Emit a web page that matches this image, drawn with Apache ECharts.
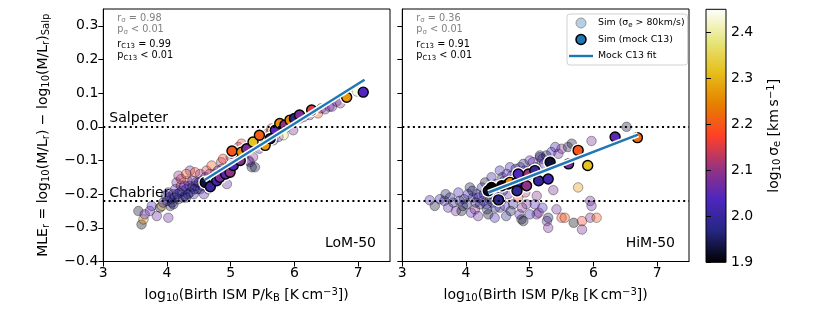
<!DOCTYPE html>
<html><head><meta charset="utf-8">
<script src="https://cdn.jsdelivr.net/npm/echarts@6/dist/echarts.min.js"></script>
<style>html,body{margin:0;padding:0;background:#fff}#c{width:830px;height:312px}</style>
</head><body><div id="c"></div>
<script>
// ---------- data ----------
const xTicks = [3, 4, 5, 6, 7];
const yTicks = [-0.4, -0.3, -0.2, -0.1, 0, 0.1, 0.2, 0.3];
const cbTicks = [1.9, 2.0, 2.1, 2.2, 2.3, 2.4];
const refLevels = [0, -0.22];
const refNames = ['Salpeter', 'Chabrier'];
const panelNames = ['LoM-50', 'HiM-50'];
const rSigma = ['0.98', '0.36'];
const pSigma = ['< 0.01', '< 0.01'];
const rC13 = ['0.99', '0.91'];
const pC13 = ['< 0.01', '< 0.01'];

// [log10 P/kB, MLE_r, log10 sigma_e]
const simLo = [
[3.55,-0.25,1.92],[3.60,-0.29,1.91],[3.63,-0.275,2.25],[3.65,-0.26,2.05],[3.73,-0.25,2.06],[3.76,-0.235,2.04],
[3.84,-0.265,2.07],[3.89,-0.24,1.93],[3.92,-0.235,2.30],[3.94,-0.225,2.02],[4.02,-0.27,2.06],[4.05,-0.235,1.95],
[4.02,-0.195,2.03],[4.07,-0.215,1.98],[4.10,-0.20,2.00],[4.13,-0.185,2.05],[4.15,-0.165,2.08],[4.18,-0.215,1.99],
[4.20,-0.195,1.97],[4.22,-0.175,2.10],[4.25,-0.21,1.96],[4.28,-0.205,2.00],[4.30,-0.185,2.02],[4.32,-0.16,2.12],
[4.36,-0.13,2.07],[4.36,-0.195,1.95],[4.39,-0.18,1.99],[4.42,-0.20,2.03],[4.44,-0.135,2.18],[4.46,-0.165,2.06],
[4.48,-0.185,1.94],[4.52,-0.14,2.10],[4.52,-0.185,2.00],[4.55,-0.16,2.04],[4.58,-0.20,2.05],[4.62,-0.13,2.15],
[4.65,-0.185,1.96],[4.70,-0.115,2.20],[4.72,-0.15,2.03],[4.74,-0.17,2.00],[4.80,-0.13,2.06],[4.80,-0.155,2.09],
[4.85,-0.105,2.12],[4.88,-0.095,2.18],[4.90,-0.14,1.95],[4.94,-0.17,2.06],[4.97,-0.12,2.04],[5.00,-0.09,2.10],
[5.04,-0.115,2.05],[5.06,-0.085,2.20],[5.10,-0.10,2.00],[5.12,-0.06,2.14],[5.17,-0.05,2.17],[5.20,-0.085,2.08],
[5.25,-0.06,2.06],[5.28,-0.10,2.04],[5.30,-0.105,2.07],[5.33,-0.12,1.93],[5.35,-0.09,2.09],[5.38,-0.12,1.94],
[5.40,-0.045,2.20],[5.45,-0.065,2.05],[5.50,-0.04,2.16],[5.55,-0.05,2.10],[5.58,-0.02,2.20],[5.62,-0.02,2.12],
[5.64,-0.005,2.18],[5.67,-0.04,2.05],[5.72,0.0,2.20],[5.75,-0.03,2.06],[5.80,0.005,2.15],[5.83,-0.025,2.38],
[5.88,0.0,2.10],[5.92,0.015,2.20],[5.98,-0.01,2.08],[6.02,0.02,2.12],[6.09,0.025,2.18],[6.15,0.03,2.05],
[6.24,0.035,2.07],[6.30,0.05,2.17],[6.37,0.04,2.20],[6.42,0.055,2.10],[6.48,0.052,2.08],[6.55,0.06,2.06],
[6.59,0.06,2.07],[6.66,0.075,2.05],[6.72,0.07,2.10],[6.98,0.105,2.40],
[4.00,-0.22,1.98],[4.08,-0.225,2.00],[4.12,-0.21,1.96],[4.30,-0.21,1.98],[4.35,-0.175,2.00],[4.45,-0.175,1.97],[4.55,-0.175,2.02],
[3.98,-0.205,1.97],[4.04,-0.21,2.02],[4.10,-0.23,1.94],[4.16,-0.20,1.99],[4.24,-0.19,2.00],[4.27,-0.175,2.04],
[4.33,-0.20,1.96],[4.40,-0.16,2.06],[4.43,-0.185,1.99],[4.50,-0.165,1.98],[4.60,-0.15,2.06],[4.67,-0.14,2.10],
[4.76,-0.14,2.12],[4.86,-0.125,2.07],[5.08,-0.095,2.06],[5.22,-0.07,2.12],[4.22,-0.155,2.16],[4.30,-0.14,2.20],[4.18,-0.145,2.10]
];
const mockLo = [
[4.60,-0.165,1.93],[4.68,-0.178,2.00],[4.78,-0.16,2.02],[4.83,-0.15,2.08],[4.92,-0.14,2.05],[4.99,-0.135,2.10],
[5.04,-0.115,2.03],[5.15,-0.10,2.09],[5.02,-0.072,2.20],[5.17,-0.075,2.26],[5.25,-0.065,2.08],[5.35,-0.045,2.32],
[5.45,-0.025,2.21],[5.54,-0.055,2.27],[5.62,-0.035,1.95],[5.70,-0.01,2.05],[5.77,0.01,2.26],[5.85,0.005,2.10],
[5.93,0.02,2.25],[6.00,0.025,1.97],[6.08,0.035,2.08],[6.27,0.05,2.15],[6.82,0.088,2.27],[7.08,0.103,2.04]
];
const fitLoX = [4.59, 7.10];
const fitLoY = [-0.158, 0.140];

const simHi = [
[3.43,-0.218,2.04],[3.51,-0.235,1.93],[3.59,-0.215,2.02],[3.66,-0.22,2.00],[3.68,-0.20,1.95],[3.72,-0.24,2.05],
[3.80,-0.225,1.97],[3.84,-0.25,2.07],[3.88,-0.195,2.03],[3.93,-0.25,1.92],[3.97,-0.215,2.00],[4.01,-0.23,1.96],
[4.06,-0.18,1.94],[4.08,-0.255,2.04],[4.11,-0.21,1.98],[4.14,-0.245,2.10],[4.17,-0.20,2.00],[4.19,-0.265,2.06],
[4.22,-0.23,1.95],[4.25,-0.18,1.99],[4.27,-0.22,2.02],[4.30,-0.165,1.93],[4.33,-0.245,1.97],[4.35,-0.26,1.92],
[4.38,-0.20,2.05],[4.40,-0.15,2.00],[4.42,-0.225,1.96],[4.45,-0.27,2.03],[4.47,-0.17,2.08],[4.50,-0.205,1.98],
[4.53,-0.13,2.02],[4.53,-0.24,2.00],[4.57,-0.15,1.95],[4.61,-0.235,2.04],[4.63,-0.265,1.98],[4.66,-0.20,2.06],
[4.69,-0.12,2.03],[4.72,-0.145,1.97],[4.74,-0.23,2.00],[4.77,-0.185,2.20],[4.82,-0.21,2.18],[4.84,-0.26,2.05],
[4.87,-0.275,1.92],[4.85,-0.12,2.06],[4.90,-0.11,1.96],[4.90,-0.28,1.93],[4.93,-0.195,2.12],[4.95,-0.23,2.07],
[4.98,-0.155,2.00],[5.00,-0.10,2.05],[5.04,-0.125,1.94],[5.08,-0.23,2.04],[5.11,-0.205,2.09],[5.11,-0.26,2.06],
[5.14,-0.255,2.08],[5.16,-0.085,2.02],[5.16,-0.09,1.93],[5.22,-0.11,2.05],[5.27,-0.28,2.06],[5.29,-0.27,1.95],
[5.29,-0.30,2.08],[5.34,-0.075,2.04],[5.37,-0.188,2.08],[5.42,-0.245,2.07],[5.45,-0.08,2.06],[5.50,-0.065,2.09],
[5.50,-0.27,2.18],[5.55,-0.27,2.20],[5.60,-0.06,1.94],[5.66,-0.05,1.93],[5.69,-0.285,1.91],[5.76,-0.18,2.27],
[5.82,-0.28,2.17],[5.82,-0.305,2.08],[5.95,-0.22,2.07],[5.97,-0.235,2.06],[5.95,-0.27,2.08],[5.97,-0.042,2.08],
[6.05,-0.27,2.20],[6.52,0.0,1.93],
[3.75,-0.21,1.98],[3.90,-0.22,2.00],[3.95,-0.235,1.95],[4.03,-0.20,2.02],[4.10,-0.19,1.96],[4.15,-0.225,1.99],
[4.20,-0.21,2.03],[4.28,-0.20,1.97],[4.32,-0.23,2.00],[4.37,-0.215,1.94],[4.43,-0.195,2.01],[4.46,-0.24,1.98],
[4.55,-0.22,2.05],[4.58,-0.19,1.96],[4.60,-0.16,2.00],[4.64,-0.14,2.04],[4.70,-0.25,1.95],[4.75,-0.155,2.02],
[4.78,-0.125,1.97],[4.92,-0.13,2.03],[5.05,-0.105,2.05],[5.10,-0.12,1.97],[5.20,-0.095,2.00],[5.26,-0.085,1.95],
[5.40,-0.06,2.02],[4.88,-0.24,2.09],[5.00,-0.26,2.02],[5.20,-0.24,2.04]
];
const mockHi = [
[4.35,-0.19,1.92],[4.40,-0.18,1.90],[4.51,-0.217,1.98],[4.56,-0.175,1.91],[4.66,-0.17,1.93],[4.69,-0.165,2.25],
[4.80,-0.165,2.00],[4.80,-0.19,1.99],[4.82,-0.14,2.04],[4.95,-0.175,2.10],[4.98,-0.14,2.11],[5.08,-0.13,2.00],
[5.14,-0.16,2.00],[5.29,-0.155,2.02],[5.32,-0.105,1.93],[5.61,-0.11,2.07],[5.76,-0.07,2.20],[5.91,-0.115,2.32],
[6.34,-0.03,2.05],[6.69,-0.032,2.22]
];
const fitHiX = [4.35, 6.70];
const fitHiY = [-0.195, -0.023];

const sigmaMin = 1.9, sigmaMax = 2.45;
// matplotlib CMRmap anchors
const cmrmap = ['#000000','#262680','#4d26bf','#993380','#ff4026','#e68000','#e6bf1a','#e6e680','#ffffff'];

// ---------- chart ----------
const FONT = 'DejaVu Sans';
const chart = echarts.init(document.getElementById('c'), null, {renderer: 'canvas'});
const fmtY = v => (Math.abs(v) < 1e-9 ? '0.0' : v.toFixed(1)).replace('-', '\u2212');
const subRich = {
  s: {fontSize: 10, fontFamily: FONT, verticalAlign: 'bottom', lineHeight: 10, color: '#000'},
  p: {fontSize: 10, fontFamily: FONT, verticalAlign: 'top', lineHeight: 10, color: '#000'}
};
const simName = 'Sim (\u03c3e > 80km/s)';
const mockName = 'Sim (mock C13)';
const fitName = 'Mock C13 fit';

const grids = [
  {left: 103.3, top: 9, width: 286.7, height: 252.5, show: true, borderColor: '#000', borderWidth: 1, backgroundColor: '#fff'},
  {left: 402.3, top: 9, width: 286.7, height: 252.5, show: true, borderColor: '#000', borderWidth: 1, backgroundColor: '#fff'},
  {left: 706, top: 9.3, width: 20, height: 253, show: true, borderColor: '#000', borderWidth: 1,
   backgroundColor: {type: 'linear', x: 0, y: 1, x2: 0, y2: 0,
     colorStops: cmrmap.map((c, i) => ({offset: i / (cmrmap.length - 1), color: c}))}}
];
const xName = 'log{s|10}(Birth ISM P/k{s|B} [K\u2009cm{p|\u22123}])';
const yName = 'MLE{s|r} = log{s|10}(M/L{s|r}) \u2212 log{s|10}(M/L{s|r}){s|Salp}';
const xAxes = [0, 1].map(i => ({
  gridIndex: i, type: 'value', min: 3, max: 7.5,
  name: xName, nameLocation: 'middle', nameGap: 26,
  nameTextStyle: {fontSize: 14, fontFamily: FONT, color: '#000', lineHeight: 16, rich: subRich},
  axisLine: {onZero: false, lineStyle: {color: '#000', width: 1}},
  axisTick: {length: 5, lineStyle: {color: '#000'}, customValues: xTicks},
  axisLabel: {fontSize: 14, fontFamily: FONT, color: '#000', margin: 5, customValues: xTicks, formatter: v => String(v)},
  splitLine: {show: false}
}));
xAxes.push({gridIndex: 2, type: 'value', min: 0, max: 1, show: false});
const yAxes = [0, 1].map(i => ({
  gridIndex: i, type: 'value', min: -0.4, max: 0.35,
  name: i === 0 ? yName : '', nameLocation: 'middle', nameGap: 52,
  nameTextStyle: {fontSize: 14, fontFamily: FONT, color: '#000', lineHeight: 16, rich: subRich},
  axisLine: {onZero: false, lineStyle: {color: '#000', width: 1}},
  axisTick: {length: 5, lineStyle: {color: '#000'}, customValues: yTicks},
  axisLabel: {show: i === 0, fontSize: 14, fontFamily: FONT, color: '#000', margin: 5, customValues: yTicks, formatter: fmtY},
  splitLine: {show: false}
}));
yAxes.push({
  gridIndex: 2, type: 'value', min: sigmaMin, max: sigmaMax, position: 'right',
  name: 'log{s|10}\u2009\u03c3{s|e} [km\u2009s{p|\u22121}]', nameLocation: 'middle', nameGap: 40, nameRotate: 90,
  nameTextStyle: {fontSize: 14, fontFamily: FONT, color: '#000', lineHeight: 16, rich: subRich},
  axisLine: {show: false},
  axisTick: {length: 5, lineStyle: {color: '#000'}, customValues: cbTicks},
  axisLabel: {fontSize: 14, fontFamily: FONT, color: '#000', margin: 5, customValues: cbTicks, formatter: v => v.toFixed(1)},
  splitLine: {show: false}
});

const series = [];
const colored = [];
const panels = [
  {sim: simLo, mock: mockLo, fx: fitLoX, fy: fitLoY},
  {sim: simHi, mock: mockHi, fx: fitHiX, fy: fitHiY}
];
panels.forEach((p, i) => {
  colored.push(series.length);
  series.push({
    name: simName, type: 'scatter', xAxisIndex: i, yAxisIndex: i, data: p.sim, symbolSize: 9.5, z: 2,
    itemStyle: {opacity: 0.35, borderColor: '#000', borderWidth: 1},
    markLine: {
      silent: true, symbol: 'none', animation: false,
      lineStyle: {color: '#000', type: [2, 3.3], width: 2, cap: 'butt'},
      label: {show: i === 0, position: 'insideStartTop', distance: [6, 1], formatter: '{b}',
              fontSize: 14, fontFamily: FONT, color: '#000'},
      data: refLevels.map((v, k) => ({yAxis: v, name: refNames[k]}))
    }
  });
  series.push({
    name: 'halo', type: 'scatter', xAxisIndex: i, yAxisIndex: i, data: p.mock, symbolSize: 14, z: 3,
    silent: true, itemStyle: {color: '#fff', opacity: 1}
  });
  colored.push(series.length);
  series.push({
    name: mockName, type: 'scatter', xAxisIndex: i, yAxisIndex: i, data: p.mock, symbolSize: 10, z: 4,
    itemStyle: {opacity: 1, borderColor: '#000', borderWidth: 1.4}
  });
  const fit = p.fx.map((x, k) => [x, p.fy[k]]);
  series.push({
    name: 'fitHalo', type: 'line', xAxisIndex: i, yAxisIndex: i, data: fit, symbol: 'none', z: 5,
    lineStyle: {color: '#fff', width: 5.5}, silent: true
  });
  series.push({
    name: fitName, type: 'line', xAxisIndex: i, yAxisIndex: i, data: fit, symbol: 'none', z: 6,
    color: '#1f77b4', lineStyle: {color: '#1f77b4', width: 2.5}
  });
});
series.push({type: 'scatter', xAxisIndex: 2, yAxisIndex: 2, data: []});

const statText = i =>
  '{g|r}{gs|\u03c3}{g| = ' + rSigma[i] + '}\n{g|p}{gs|\u03c3}{g| ' + pSigma[i] + '}';
const statText2 = i =>
  '{k|r}{ks|C13}{k| = ' + rC13[i] + '}\n{k|p}{ks|C13}{k| ' + pC13[i] + '}';
const statRich = {
  g: {fontSize: 9.7, fontFamily: FONT, color: '#808080', lineHeight: 11.5, verticalAlign: 'middle'},
  gs: {fontSize: 7, fontFamily: FONT, color: '#808080', lineHeight: 7, verticalAlign: 'bottom'},
  k: {fontSize: 9.7, fontFamily: FONT, color: '#000', lineHeight: 11.5, verticalAlign: 'middle'},
  ks: {fontSize: 7, fontFamily: FONT, color: '#000', lineHeight: 7, verticalAlign: 'bottom'}
};
const panelLeft = [103.3, 402.3];
const graphics = [];
[0, 1].forEach(i => {
  graphics.push({type: 'text', left: panelLeft[i] + 14, top: 13, z: 50,
    style: {text: statText(i), rich: statRich, fill: '#808080'}});
  graphics.push({type: 'text', left: panelLeft[i] + 14, top: 39, z: 50,
    style: {text: statText2(i), rich: statRich, fill: '#000'}});
  graphics.push({type: 'text', right: 830 - (panelLeft[i] + 286.7) + 14, top: 236, z: 50,
    style: {text: panelNames[i], font: '14px "DejaVu Sans"', fill: '#000'}});
});

chart.setOption({
  animation: false,
  backgroundColor: '#fff',
  textStyle: {fontFamily: FONT},
  grid: grids,
  xAxis: xAxes,
  yAxis: yAxes,
  visualMap: {type: 'continuous', show: false, min: sigmaMin, max: sigmaMax, dimension: 2,
    seriesIndex: colored, inRange: {color: cmrmap}},
  legend: {
    orient: 'vertical', left: 567, top: 14, itemWidth: 24, itemHeight: 10, itemGap: 4.5,
    padding: [3, 3, 3, 2], borderColor: '#d0d0d0', borderWidth: 1, borderRadius: 3, backgroundColor: '#fff',
    selectedMode: false,
    textStyle: {fontSize: 9.4, fontFamily: FONT, color: '#000', lineHeight: 12,
      rich: {e: {fontSize: 7, fontFamily: FONT, verticalAlign: 'bottom', lineHeight: 7, color: '#000'}}},
    formatter: n => n === simName ? 'Sim (\u03c3{e|e} > 80km/s)' : n,
    data: [
      {name: simName, icon: 'circle', itemStyle: {color: '#b7cfe4', borderColor: '#9a9a9a', borderWidth: 1, opacity: 1}},
      {name: mockName, icon: 'circle', itemStyle: {color: '#1f77b4', borderColor: '#000', borderWidth: 1.5}},
      {name: fitName, icon: 'path://M0,0 L30,0 L30,3 L0,3 Z', itemStyle: {color: '#1f77b4', borderWidth: 0}}
    ]
  },
  graphic: graphics,
  series: series
});
</script>
</body></html>
